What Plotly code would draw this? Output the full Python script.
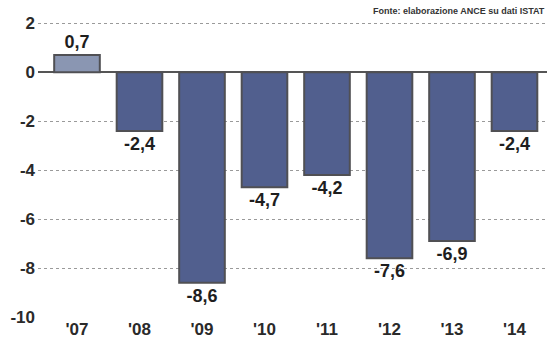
import plotly.graph_objects as go

# Annual change (%) of construction investment
years = ["'07", "'08", "'09", "'10", "'11", "'12", "'13", "'14"]
changes = [0.7, -2.4, -8.6, -4.7, -4.2, -7.6, -6.9, -2.4]
y_ticks = [2, 0, -2, -4, -6, -8, -10]
source_note = "Fonte: elaborazione ANCE su dati ISTAT"

labels = [f"{v:.1f}".replace(".", ",") for v in changes]
bar_colors = ["#8a96b2"] + ["#515f8e"] * (len(changes) - 1)
positions = list(range(len(years)))

fig = go.Figure(
    go.Bar(
        x=positions,
        y=changes,
        width=0.73,
        marker=dict(color=bar_colors, line=dict(color="#505054", width=2)),
        text=labels,
        texttemplate="<b>%{text}</b>",
        textposition="outside",
        textfont=dict(family="Liberation Sans, Arial, sans-serif", size=18, color="#1e1e1e"),
        cliponaxis=False,
        hoverinfo="skip",
    )
)

fig.add_annotation(
    text=f"<b>{source_note}</b>",
    xref="paper", yref="paper",
    x=1.0, y=1.0, xanchor="right", yanchor="middle",
    showarrow=False,
    font=dict(family="Liberation Sans Narrow, Liberation Sans, Arial, sans-serif",
              size=9, color="#333"),
)

fig.update_layout(
    width=547, height=344,
    margin=dict(l=38, r=0, t=11, b=27),
    paper_bgcolor="white",
    plot_bgcolor="white",
    showlegend=False,
    font=dict(family="Liberation Sans, Arial, sans-serif", color="#1e1e1e"),
)

fig.update_xaxes(
    range=[-0.624, 7.52],
    tickmode="array",
    tickvals=positions,
    ticktext=[f"<b>{t}</b>" for t in years],
    tickfont=dict(size=17, color="#2a2a2a"),
    showgrid=False,
    showline=False,
    zeroline=False,
    ticks="",
)

fig.update_yaxes(
    range=[-10, 2.5],
    tickmode="array",
    tickvals=y_ticks,
    ticktext=[f"<b>{t}</b>" for t in y_ticks],
    tickfont=dict(size=17, color="#2a2a2a"),
    showgrid=True,
    gridcolor="#9a9a9a",
    griddash="dot",
    gridwidth=1,
    zeroline=True,
    zerolinecolor="#555",
    zerolinewidth=2,
    showline=False,
    ticks="",
    ticklabelstandoff=2,
)

fig.write_html("out.html")
